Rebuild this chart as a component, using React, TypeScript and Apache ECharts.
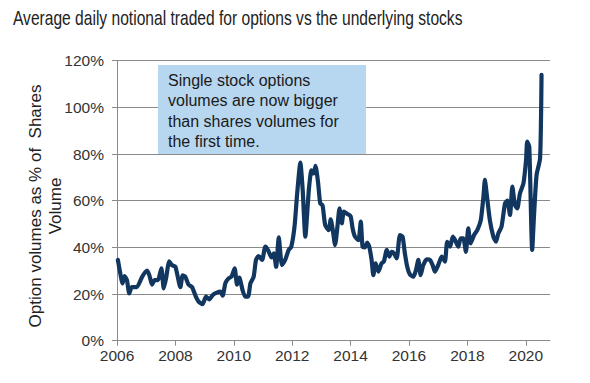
import React, { useEffect, useRef } from "react";
import * as echarts from "echarts";

const titleText = "Average daily notional traded for options vs the underlying stocks";
const yAxisName = "Option volumes as % of  Shares\nVolume";
const noteLines = [
  "Single stock options",
  "volumes are now bigger",
  "than shares volumes for",
  "the first time.",
];
const xTicks = [2006, 2008, 2010, 2012, 2014, 2016, 2018, 2020];

const dates = [
  2006.03, 2006.11, 2006.19, 2006.26, 2006.34, 2006.42, 2006.51, 2006.68, 2006.86,
  2007.03, 2007.11, 2007.2, 2007.29, 2007.4, 2007.52, 2007.6, 2007.68, 2007.79, 2007.88,
  2008.0, 2008.17, 2008.25, 2008.34, 2008.45, 2008.57, 2008.7, 2008.8, 2008.93,
  2009.05, 2009.16, 2009.28, 2009.42, 2009.54, 2009.62, 2009.71, 2009.82, 2009.92,
  2010.03, 2010.11, 2010.19, 2010.3, 2010.39, 2010.49, 2010.57, 2010.68, 2010.76, 2010.85, 2010.97,
  2011.08, 2011.17, 2011.29, 2011.37, 2011.45, 2011.54, 2011.65, 2011.76, 2011.88, 2011.97,
  2012.08, 2012.17, 2012.28, 2012.36, 2012.45, 2012.57, 2012.66, 2012.74, 2012.8, 2012.89, 2012.96,
  2013.04, 2013.13, 2013.25, 2013.32, 2013.39, 2013.47, 2013.55, 2013.62, 2013.7, 2013.77, 2013.89,
  2014.0, 2014.07, 2014.15, 2014.27, 2014.35, 2014.41, 2014.49, 2014.57, 2014.64, 2014.72, 2014.78, 2014.86, 2014.95,
  2015.06, 2015.14, 2015.24, 2015.33, 2015.41, 2015.49, 2015.58, 2015.69, 2015.78, 2015.86, 2015.94,
  2016.03, 2016.15, 2016.24, 2016.32, 2016.4, 2016.49, 2016.61, 2016.72, 2016.81, 2016.89,
  2017.0, 2017.12, 2017.23, 2017.31, 2017.41, 2017.5, 2017.58, 2017.69, 2017.77, 2017.86, 2017.95,
  2018.03, 2018.11, 2018.23, 2018.34, 2018.46, 2018.55, 2018.6, 2018.66, 2018.77, 2018.89, 2018.98,
  2019.06, 2019.17, 2019.29, 2019.37, 2019.46, 2019.54, 2019.63, 2019.71, 2019.8, 2019.92,
  2020.01, 2020.05, 2020.12, 2020.22, 2020.28, 2020.37, 2020.49, 2020.54,
];

const values = [
  34.6, 29, 24.6, 27.7, 26, 20.3, 23, 23, 27.4,
  30, 28, 24, 26, 26, 31, 22.4, 26.7, 34, 32.4,
  31.7, 23, 28, 27.4, 24, 23, 18.9, 16.7, 15.7,
  18.9, 17.7, 19.6, 20.6, 21, 19.3, 24.6, 26.7, 27.4,
  31, 24, 27, 21.7, 18.9, 18.9, 24.6, 27.4, 34.6, 36.3, 34.6,
  40.3, 38.9, 35.7, 37.4, 31.7, 44.3, 32.4, 34.6, 38.9, 40.3,
  48.9, 63, 76.3, 64.6, 44.6, 64.6, 73, 71.7, 74.9, 67.4, 58.9,
  58, 49.6, 47.4, 52, 47.4, 41, 48.9, 56.7, 50.3, 55.3, 54.3,
  53.4, 48.1, 44.6, 43.1, 51, 40.3, 40, 42, 40.3, 34.6, 28.1, 33.1, 29.6,
  33.1, 33.9, 38.9, 36, 38.1, 37.4, 35.3, 45.3, 44.6, 37.4, 31.7,
  28.4, 27.4, 30.3, 34.6, 28.1, 32.4, 34.9, 34.6, 32.4, 29.6,
  32.4, 36, 33.9, 42.4, 40.3, 44.6, 43.1, 40.3, 43.9, 43.9, 38.1,
  48.1, 41.7, 45.3, 47.4, 51.7, 61.7, 68.9, 63.1, 51.7, 44.6, 42.4,
  46, 48.9, 58.9, 60, 53.9, 66, 58.1, 56.7, 63.1, 67.4,
  77.4, 85.3, 83.1, 38.9, 53.1, 71, 78.1, 113.9,
];

export default function App() {
  const ref = useRef<HTMLDivElement>(null);
  useEffect(() => {
    if (!ref.current) return;
    const chart = echarts.init(ref.current, null, { renderer: "svg" });
    const gray = "#8a8a8a";
    const font = "Liberation Sans, Arial, sans-serif";
    chart.setOption({
      animation: false,
      backgroundColor: "#ffffff",
      grid: { left: 117, right: 40, top: 60.7, bottom: 42.3, containLabel: false },
      xAxis: {
        type: "value",
        min: 2006,
        max: 2020.83,
        interval: 2,
        axisLine: { show: true, lineStyle: { color: gray, width: 1 } },
        axisTick: { show: true, length: 5, lineStyle: { color: gray }, customValues: xTicks },
        splitLine: { show: false },
        axisLabel: {
          customValues: xTicks,
          margin: 7,
          fontFamily: font,
          fontSize: 15.5,
          color: "#333",
          formatter: (v: number) => (Number.isInteger(v) ? String(v) : ""),
        },
      },
      yAxis: {
        type: "value",
        min: 0,
        max: 120,
        interval: 20,
        axisLine: { show: true, lineStyle: { color: gray, width: 1 } },
        axisTick: { show: true, length: 5, lineStyle: { color: gray } },
        splitLine: { show: true, lineStyle: { color: gray, width: 1 } },
        axisLabel: {
          margin: 13,
          fontFamily: font,
          fontSize: 15.5,
          color: "#333",
          formatter: "{value}%",
        },
      },
      series: [
        {
          type: "line",
          data: dates.map((d, i) => [d, values[i]]),
          showSymbol: false,
          smooth: 0.2,
          lineStyle: { color: "#113760", width: 4.2, join: "round", cap: "round" },
          z: 3,
        },
      ],
      graphic: [
        {
          type: "text",
          x: 13,
          y: 18,
          scaleX: 0.78,
          style: {
            text: titleText,
            fontFamily: font,
            fontSize: 20,
            fill: "#222",
            textVerticalAlign: "middle",
          },
        },
        {
          type: "text",
          x: 45,
          y: 206,
          rotation: Math.PI / 2,
          style: {
            text: yAxisName,
            fontFamily: font,
            fontSize: 17,
            lineHeight: 20,
            fill: "#222",
            textAlign: "center",
            textVerticalAlign: "middle",
          },
        },
        {
          type: "rect",
          shape: { x: 158, y: 65, width: 208, height: 89 },
          style: { fill: "#b7d7f0" },
          z: 10,
        },
        {
          type: "text",
          x: 168,
          y: 70,
          style: {
            text: noteLines.join("\n"),
            fontFamily: font,
            fontSize: 16,
            lineHeight: 20.5,
            fill: "#1a1a1a",
          },
          z: 11,
        },
      ],
    });
    return () => chart.dispose();
  }, []);
  return (
    <div
      ref={ref}
      style={{ position: "fixed", left: 0, top: 0, width: 590, height: 383 }}
    />
  );
}
